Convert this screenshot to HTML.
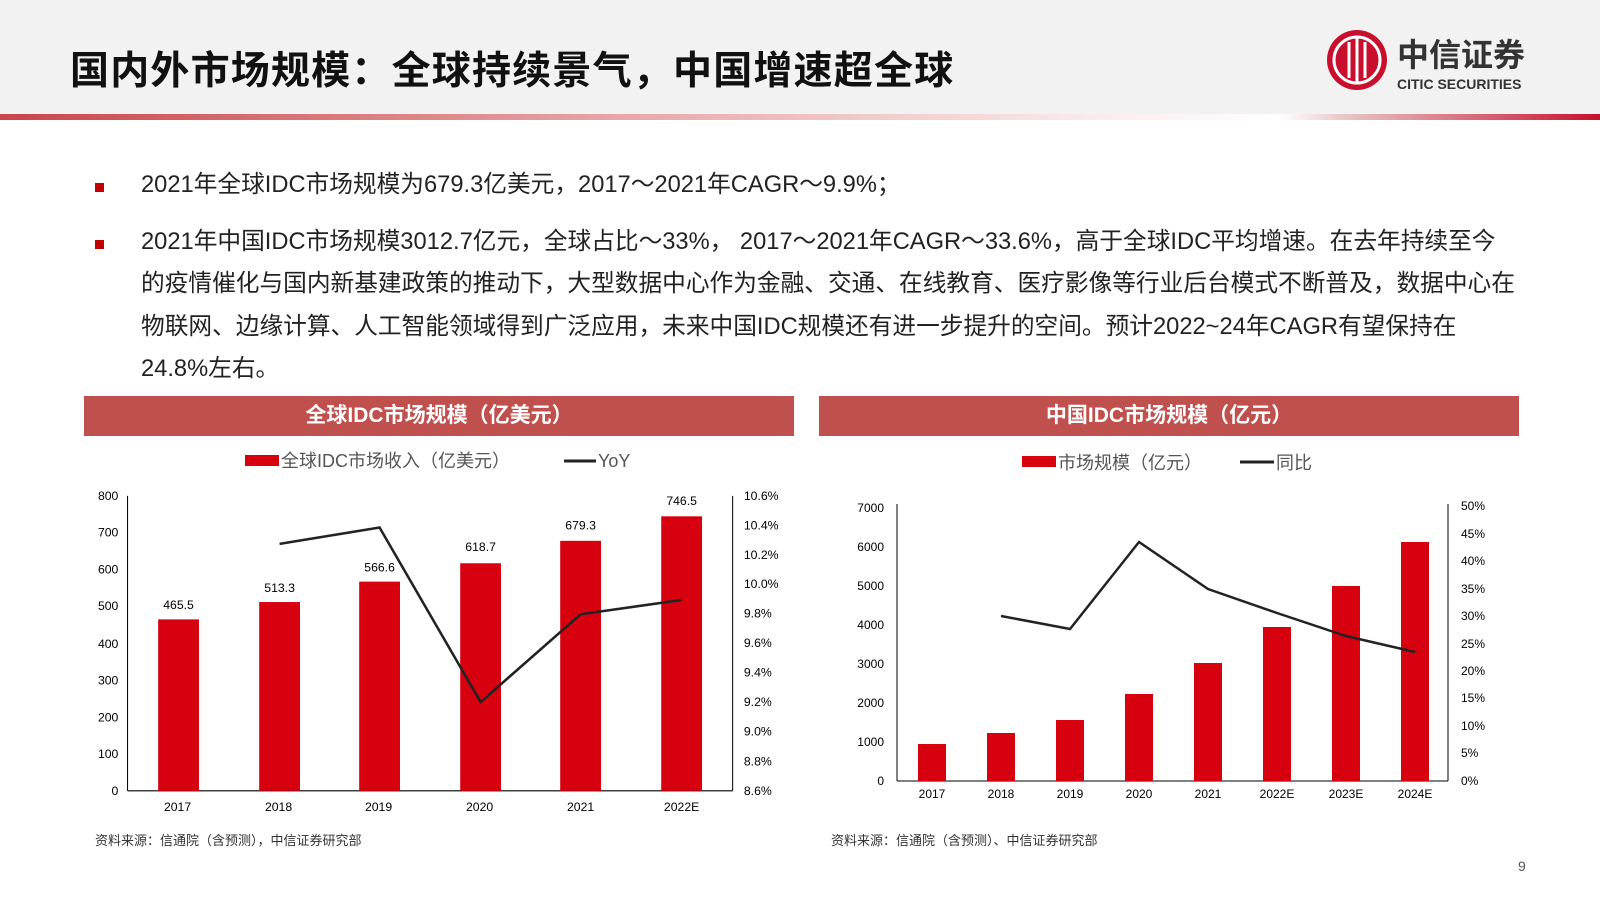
<!DOCTYPE html>
<html><head><meta charset="utf-8"><style>
body{margin:0;width:1600px;height:899px;background:#fff;position:relative;overflow:hidden;font-family:"Liberation Sans","Noto Sans CJK SC",sans-serif}
.hdr{position:absolute;left:0;top:0;width:1600px;height:114px;background:#f2f2f2}
.bar{position:absolute;left:0;top:114px;width:1600px;height:6px;background:linear-gradient(90deg,#c9454a 0%,#e8a9ab 40%,#fbeeee 70%,#fff 80%,#e7c6c7 84%,#c8102e 100%)}
.t{position:absolute;left:70px;top:40px;font-size:39px;font-weight:bold;color:#111;letter-spacing:1.2px}
.p{position:absolute;left:141px;font-size:23.7px;color:#222;line-height:42.3px;white-space:nowrap}
.sq{position:absolute;left:95px;width:9px;height:9px;background:#c00000}
.ban{position:absolute;top:396px;height:40px;background:#c0504d;color:#fff;font-size:21px;font-weight:bold;text-align:center;line-height:40px}
svg text{font-family:"Liberation Sans","Noto Sans CJK SC",sans-serif}
</style></head><body>
<div class="hdr"></div><div class="bar"></div>
<div class="t">国内外市场规模：全球持续景气，中国增速超全球</div>
<svg style="position:absolute;left:1325px;top:28px" width="230" height="70">
<circle cx="32" cy="32" r="30" fill="#c8102e"/><circle cx="32" cy="32" r="23" fill="none" stroke="#fff" stroke-width="3"/>
<path d="M24 14v36M32 10v44M40 14v36" stroke="#fff" stroke-width="3"/>
<text x="72" y="38" font-size="32" font-weight="bold" fill="#333">中信证券</text>
<text x="72" y="61" font-size="14" font-weight="bold" fill="#333">CITIC SECURITIES</text></svg>
<div class="sq" style="top:183px"></div><div class="sq" style="top:240px"></div>
<div class="p" style="top:164px">2021年全球IDC市场规模为679.3亿美元，2017～2021年CAGR～9.9%；</div>
<div class="p" style="top:221px">2021年中国IDC市场规模3012.7亿元，全球占比～33%， 2017～2021年CAGR～33.6%，高于全球IDC平均增速。在去年持续至今<br>的疫情催化与国内新基建政策的推动下，大型数据中心作为金融、交通、在线教育、医疗影像等行业后台模式不断普及，数据中心在<br>物联网、边缘计算、人工智能领域得到广泛应用，未来中国IDC规模还有进一步提升的空间。预计2022~24年CAGR有望保持在<br>24.8%左右。</div>
<div class="ban" style="left:84px;width:710px">全球IDC市场规模（亿美元）</div>
<div class="ban" style="left:819px;width:700px">中国IDC市场规模（亿元）</div>
<svg style="position:absolute;left:0;top:0" width="1600" height="899">
<g font-size="12" fill="#000">
<rect x="245" y="455" width="34" height="11" fill="#d7000f"/><text x="281" y="467" font-size="18" fill="#555">全球IDC市场收入（亿美元）</text>
<line x1="564" y1="461" x2="596" y2="461" stroke="#222" stroke-width="3"/><text x="598" y="467" font-size="18" fill="#555">YoY</text>
<g transform="scale(1.0204)">
<line x1="125" y1="486" x2="125" y2="775" stroke="#000"/><line x1="125" y1="775" x2="718" y2="775" stroke="#000"/><line x1="718" y1="486" x2="718" y2="775" stroke="#000"/>
<g text-anchor="end">
<text x="116" y="779">0</text><text x="116" y="743">100</text><text x="116" y="707">200</text><text x="116" y="671">300</text><text x="116" y="635">400</text><text x="116" y="598">500</text><text x="116" y="562">600</text><text x="116" y="526">700</text><text x="116" y="490">800</text></g>
<g><text x="729" y="779">8.6%</text><text x="729" y="750">8.8%</text><text x="729" y="721">9.0%</text><text x="729" y="692">9.2%</text><text x="729" y="663">9.4%</text><text x="729" y="634">9.6%</text><text x="729" y="605">9.8%</text><text x="729" y="576">10.0%</text><text x="729" y="548">10.2%</text><text x="729" y="519">10.4%</text><text x="729" y="490">10.6%</text></g>
<g fill="#d7000f"><rect x="155" y="607" width="40" height="168"/><rect x="254" y="590" width="40" height="185"/><rect x="352" y="570" width="40" height="205"/><rect x="451" y="552" width="40" height="223"/><rect x="549" y="530" width="40" height="245"/><rect x="648" y="506" width="40" height="269"/></g>
<g text-anchor="middle"><text x="175" y="597">465.5</text><text x="274" y="580">513.3</text><text x="372" y="560">566.6</text><text x="471" y="540">618.7</text><text x="569" y="519">679.3</text><text x="668" y="495">746.5</text>
<text x="174" y="795">2017</text><text x="273" y="795">2018</text><text x="371" y="795">2019</text><text x="470" y="795">2020</text><text x="569" y="795">2021</text><text x="668" y="795">2022E</text></g>
<polyline points="274,533 372,517 471,688 569,602 668,588" fill="none" stroke="#222" stroke-width="2.5"/>
</g>
<text x="95" y="845" font-size="13" fill="#333">资料来源：信通院（含预测），中信证券研究部</text>
<rect x="1022" y="456" width="34" height="11" fill="#d7000f"/><text x="1058" y="469" font-size="18" fill="#555">市场规模（亿元）</text>
<line x1="1240" y1="462" x2="1274" y2="462" stroke="#222" stroke-width="3"/><text x="1276" y="469" font-size="18" fill="#555">同比</text>
<line x1="897" y1="504" x2="897" y2="781" stroke="#000"/><line x1="897" y1="781" x2="1448" y2="781" stroke="#000"/><line x1="1448" y1="504" x2="1448" y2="781" stroke="#000"/>
<g text-anchor="end"><text x="884" y="785">0</text><text x="884" y="746">1000</text><text x="884" y="707">2000</text><text x="884" y="668">3000</text><text x="884" y="629">4000</text><text x="884" y="590">5000</text><text x="884" y="551">6000</text><text x="884" y="512">7000</text></g>
<g><text x="1461" y="785">0%</text><text x="1461" y="757">5%</text><text x="1461" y="730">10%</text><text x="1461" y="702">15%</text><text x="1461" y="675">20%</text><text x="1461" y="648">25%</text><text x="1461" y="620">30%</text><text x="1461" y="593">35%</text><text x="1461" y="565">40%</text><text x="1461" y="538">45%</text><text x="1461" y="510">50%</text></g>
<g fill="#d7000f"><rect x="918" y="744" width="28" height="37"/><rect x="987" y="733" width="28" height="48"/><rect x="1056" y="720" width="28" height="61"/><rect x="1125" y="694" width="28" height="87"/><rect x="1194" y="663" width="28" height="118"/><rect x="1263" y="627" width="28" height="154"/><rect x="1332" y="586" width="28" height="195"/><rect x="1401" y="542" width="28" height="239"/></g>
<g text-anchor="middle"><text x="932" y="798">2017</text><text x="1001" y="798">2018</text><text x="1070" y="798">2019</text><text x="1139" y="798">2020</text><text x="1208" y="798">2021</text><text x="1277" y="798">2022E</text><text x="1346" y="798">2023E</text><text x="1415" y="798">2024E</text></g>
<polyline points="1001,616 1070,629 1139,542 1208,589 1277,613 1346,636 1415,652" fill="none" stroke="#222" stroke-width="2.5"/>
<text x="831" y="845" font-size="13" fill="#333">资料来源：信通院（含预测）、中信证券研究部</text>
<text x="1518" y="871" font-size="14" fill="#555">9</text>
</g></svg>
</body></html>
